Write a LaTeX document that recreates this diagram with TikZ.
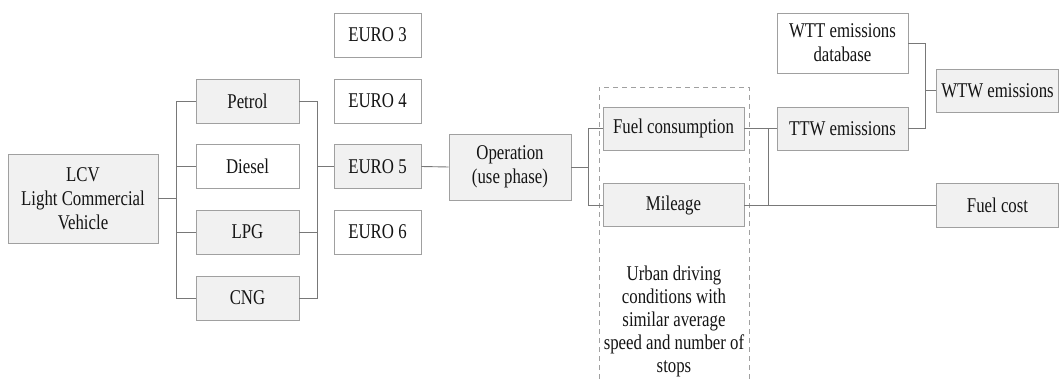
\documentclass[tikz,border=0pt]{standalone}
\usepackage{fontspec}
\setmainfont{Liberation Serif}[FakeStretch=0.8]
\usepackage{tikz}
\usetikzlibrary{calc}
\definecolor{BoxGray}{RGB}{160,160,160}
\definecolor{BoxFill}{RGB}{241,241,241}
\definecolor{LineGray}{RGB}{120,120,120}

\begin{document}
\begin{tikzpicture}[x=1pt,y=-1pt,
    box/.style={draw=BoxGray,fill=BoxFill,line width=0.9pt,inner sep=0pt,
      align=center,font=\fontsize{21}{24}\selectfont,text=black!92},
    wbox/.style={box,fill=white},
    link/.style={draw=LineGray,line width=0.9pt}]
  \useasboundingbox (0,0) rectangle (1059,379);
  % vehicle and fuel types
  \node[box,minimum width=150,minimum height=89] (lcv) at (83,198.5)
    {LCV\\Light Commercial\\Vehicle};
  \node[box,minimum width=103,minimum height=44] (petrol) at (247.5,101) {Petrol};
  \node[wbox,minimum width=103,minimum height=44] (diesel) at (247.5,166.5) {Diesel};
  \node[box,minimum width=103,minimum height=44] (lpg) at (247.5,232) {LPG};
  \node[box,minimum width=103,minimum height=44] (cng) at (247.5,298) {CNG};
  % emission standards
  \node[wbox,minimum width=87,minimum height=44] (euro3) at (377.5,35) {EURO 3};
  \node[wbox,minimum width=87,minimum height=44] (euro4) at (377.5,101) {EURO 4};
  \node[box,minimum width=87,minimum height=44] (euro5) at (377.5,166.5) {EURO 5};
  \node[wbox,minimum width=87,minimum height=44] (euro6) at (377.5,232) {EURO 6};
  \node[box,minimum width=122,minimum height=66] (oper) at (510,167)
    {Operation\\(use phase)};
  % use phase inside the driving conditions frame
  \node[box,minimum width=141,minimum height=43] (fuelc) at (673.5,128.5) {Fuel consumption};
  \node[box,minimum width=141,minimum height=43] (mileage) at (673.5,205) {Mileage};
  \node[align=center,font=\fontsize{21}{23}\selectfont,text=black!92] (urban) at (674,321)
    {Urban driving\\conditions with\\similar average\\speed and number of\\stops};
  \draw[BoxGray,line width=0.9pt,dash pattern=on 5pt off 4pt]
    (599,379) -- (599,87) -- (749,87) -- (749,379);
  % emissions and cost
  \node[wbox,minimum width=131,minimum height=60] (wtt) at (842.5,43)
    {WTT emissions\\database};
  \node[box,minimum width=131,minimum height=43] (ttw) at (842.5,128.5) {TTW emissions};
  \node[box,minimum width=122,minimum height=43] (wtw) at (997.5,90.5) {WTW emissions};
  \node[box,minimum width=122,minimum height=44] (fcost) at (997.5,205) {Fuel cost};

  % bus lines
  \coordinate (busa) at (176,0);
  \coordinate (busb) at (317,0);
  \coordinate (busc) at (588,0);
  \coordinate (busd) at (768,0);
  \coordinate (buse) at (925,0);
  \draw[link] (lcv.east) -- (lcv.east -| busa);
  \draw[link] (petrol.west) -- (petrol.west -| busa) -- (cng.west -| busa) -- (cng.west);
  \draw[link] (diesel.west) -- (diesel.west -| busa);
  \draw[link] (lpg.west) -- (lpg.west -| busa);
  \draw[link] (petrol.east) -- (petrol.east -| busb) -- (cng.east -| busb) -- (cng.east);
  \draw[link] (lpg.east) -- (lpg.east -| busb);
  \draw[link] (euro5.west) -- (euro5.west -| busb);
  \draw[link] (euro5.east) -- (oper.west);
  \draw[link] (oper.east) -- (oper.east -| busc);
  \draw[link] (fuelc.west) -- (fuelc.west -| busc) -- (mileage.west -| busc) -- (mileage.west);
  \draw[link] (fuelc.east) -- (ttw.west);
  \draw[link] (mileage.east) -- (fcost.west);
  \draw[link] (fuelc.east -| busd) -- (mileage.east -| busd);
  \draw[link] (wtt.east) -- (wtt.east -| buse) -- (ttw.east -| buse) -- (ttw.east);
  \draw[link] (wtw.west) -- (wtw.west -| buse);
\end{tikzpicture}
\end{document}
